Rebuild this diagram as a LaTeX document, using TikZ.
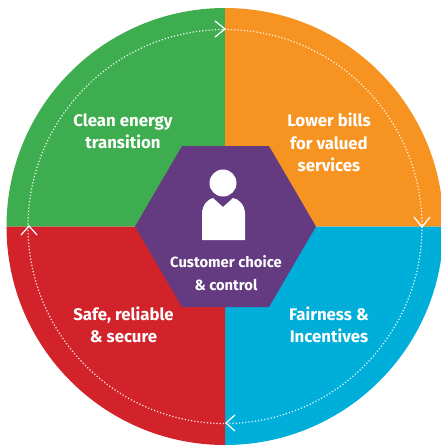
\documentclass[tikz,border=0pt]{standalone}
\usepackage{fontspec}
\setmainfont{Fira Sans}
\definecolor{cgreen}{HTML}{3EAD4F}
\definecolor{corange}{HTML}{F79421}
\definecolor{cblue}{HTML}{00AEDA}
\definecolor{cred}{HTML}{D2232A}
\definecolor{cpurple}{HTML}{643B80}
\tikzset{
  label/.style={text=white,align=center,font=\fontsize{16.8}{22.3}\selectfont\bfseries},
  hexlabel/.style={text=white,align=center,font=\fontsize{14.8}{22.5}\selectfont\bfseries},
  chevron/.style={draw=white,line width=1.2pt,line join=miter},
  ring/.style={draw=white,line width=1.2pt,dash pattern=on 1.2pt off 2pt,opacity=.9}
}
\begin{document}
\begin{tikzpicture}[x=1pt,y=-1pt]
\useasboundingbox (0,0) rectangle (441,448);
\clip (0,0) rectangle (441,448);
\coordinate (c) at (225,226.5);
\fill[cgreen]  (c) -- (6.5,226.5) arc[start angle=180,end angle=90,x radius=218.5,y radius=-218.5] -- cycle;
\fill[corange] (c) -- (225,8) arc[start angle=90,end angle=0,x radius=218.5,y radius=-218.5] -- cycle;
\fill[cblue]   (c) -- (443.5,226.5) arc[start angle=0,end angle=-90,x radius=218.5,y radius=-218.5] -- cycle;
\fill[cred]    (c) -- (225,445) arc[start angle=270,end angle=180,x radius=218.5,y radius=-218.5] -- cycle;
\draw[ring] (c) circle[radius=197];
\draw[chevron] (215,21) -- (225,29) -- (215,37);
\draw[chevron] (414,217) -- (422,227) -- (430,217);
\draw[chevron] (235,415) -- (226,423) -- (235,431);
\draw[chevron] (21,235) -- (29,226) -- (37,235);
\fill[cpurple] (135,226.5) -- (182,146) -- (269,146) -- (316,226.5) -- (269,307) -- (182,307) -- cycle;
\fill[white] (223,183) circle[radius=13.5];
\fill[white] (202,240) -- (202,214) .. controls (202,205) and (208,199) .. (213,198) -- (223,207) -- (233,198) .. controls (239,199) and (245,205) .. (245,214) -- (245,240) -- cycle;
\node[label] (clean) at (123,131.5) {Clean energy\\transition};
\node[label] (lower) at (329,142.5) {Lower bills\\for valued\\services};
\node[label] (fair)  at (329,324.5) {Fairness \&\\Incentives};
\node[label] (safe)  at (123.5,324.5) {Safe, reliable\\\& secure};
\node[hexlabel] (cust) at (226,273) {Customer choice\\\& control};
\end{tikzpicture}
\end{document}
